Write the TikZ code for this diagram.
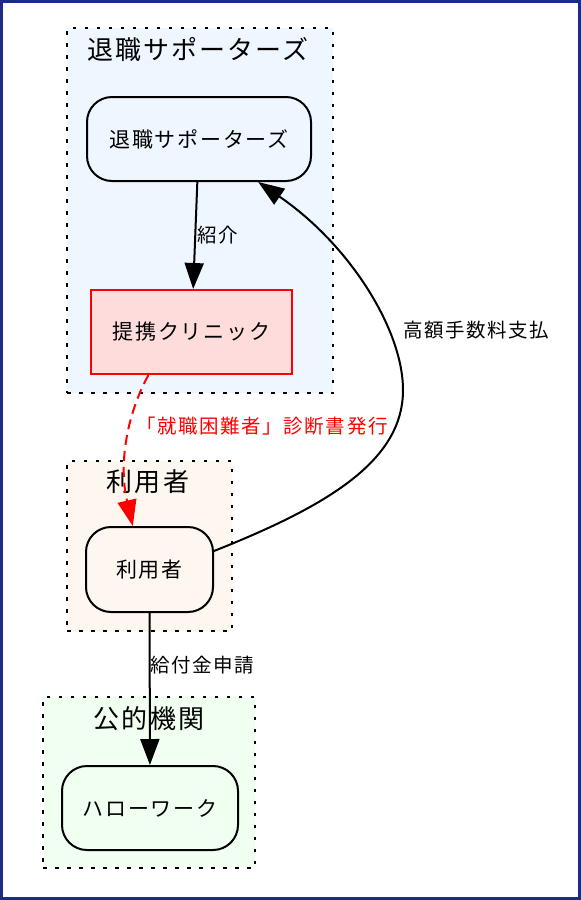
\documentclass[tikz,border=0pt]{standalone}
\usepackage{fontspec}
\newfontfamily\jp{Noto Sans CJK JP}[LetterSpace=8]
\usetikzlibrary{arrows.meta}
\definecolor{framecol}{HTML}{1C2C84}
\definecolor{cbluefill}{HTML}{EEF6FF}
\definecolor{corangefill}{HTML}{FEF7F0}
\definecolor{cgreenfill}{HTML}{F0FFF0}
\definecolor{clinicfill}{HTML}{FFDCDC}
\definecolor{redcol}{HTML}{FF0000}
\begin{document}
\begin{tikzpicture}[x=1pt,y=-1pt,
  cluster/.style={draw=black, line width=2pt, dash pattern=on 3.5pt off 8.5pt, inner sep=0pt},
  clabel/.style={font=\jp\fontsize{26}{30}\selectfont, inner sep=0pt},
  rnode/.style={draw=black, line width=2pt, rounded corners=25pt, inner sep=0pt, font=\jp\fontsize{21}{24}\selectfont},
  cnode/.style={draw=redcol, line width=2pt, fill=clinicfill, inner sep=0pt, font=\jp\fontsize{21}{24}\selectfont},
  edge/.style={draw=black, line width=2pt, -{Triangle[length=26pt,width=19pt]}},
  elabel/.style={font=\jp\fontsize{19.5}{22}\selectfont, inner sep=1pt}
]
\useasboundingbox (0,0) rectangle (581,900);
\draw[line width=3pt, draw=framecol] (1.5,1.5) rectangle (579.5,898.5);

% clusters
\node[cluster, fill=cbluefill, minimum width=266pt, minimum height=365pt] (cl1) at (200,210.5) {};
\node[cluster, fill=corangefill, minimum width=165pt, minimum height=170pt] (cl2) at (149.5,546) {};
\node[cluster, fill=cgreenfill, minimum width=212pt, minimum height=171pt] (cl3) at (149,782.5) {};
\node[clabel] (cl1lab) at (198,50) {退職サポーターズ};
\node[clabel] (cl2lab) at (148,482) {利用者};
\node[clabel] (cl3lab) at (149,719) {公的機関};

% nodes
\node[rnode, fill=cbluefill, minimum width=224pt, minimum height=84pt] (sup) at (199,139) {退職サポーターズ};
\node[cnode, minimum width=201pt, minimum height=84pt] (clinic) at (191.5,332) {提携クリニック};
\node[rnode, fill=corangefill, minimum width=127pt, minimum height=85pt] (user) at (149.5,569.5) {利用者};
\node[rnode, fill=cgreenfill, minimum width=176pt, minimum height=84pt] (hw) at (150,808) {ハローワーク};

% edges
\draw[edge] (sup) -- (clinic) node[elabel, right, pos=0.5] (l1) {紹介};
\draw[draw=redcol, line width=2pt, dash pattern=on 10pt off 6pt, -{Triangle[length=26pt,width=19pt,fill=redcol]}]
  (clinic.-135) .. controls (128,412) and (118,462) .. (user.111);
\node[elabel, text=redcol] (l2) at (262,426) {「就職困難者」診断書発行};
\coordinate (bend) at (403,390);
\draw[edge] (user.16) .. controls (330,505) and (403,460) .. (bend) .. controls (403,330) and (350,245) .. (sup.-36);
\node[elabel] (l3) at (476,330) {高額手数料支払};
\draw[edge] (user) -- (hw) node[elabel, right, pos=0.34, inner sep=0pt] (l4) {給付金申請};
\end{tikzpicture}
\end{document}
